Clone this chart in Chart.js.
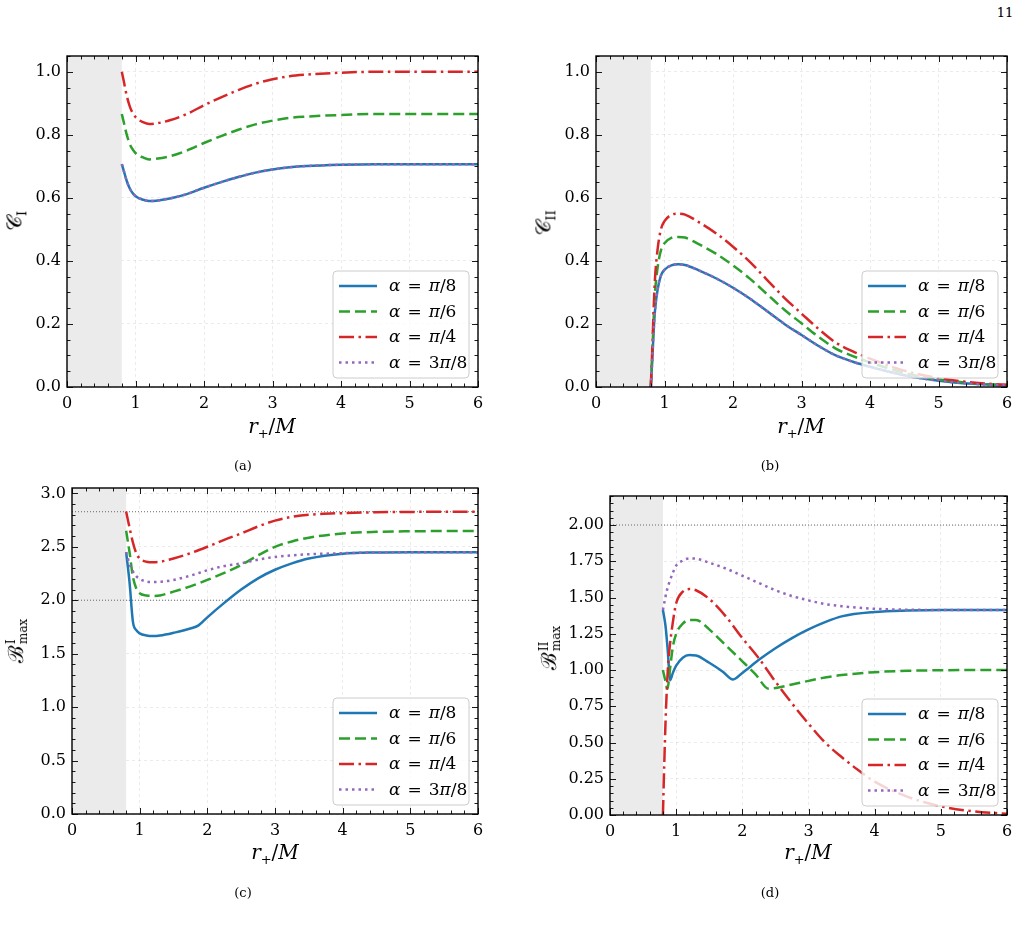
<!DOCTYPE html>
<html>
<head>
<meta charset="utf-8">
<script src="https://cdn.jsdelivr.net/npm/chart.js@4.4.1/dist/chart.umd.min.js"></script>
<style>
  body { margin: 0; background: #fff; }
  #page { position: relative; width: 1022px; height: 928px; overflow: hidden; font-family: "DejaVu Serif", serif; color: #000; }
  canvas { position: absolute; }
  .t { position: absolute; white-space: nowrap; transform: translate(-50%, -50%); }
  .yt { position: absolute; white-space: nowrap; font-size: 21px; transform: translate(-50%, -50%) rotate(-90deg); }
  .xt { font-size: 20px; }
  .cap { font-size: 13px; }
  .ss { display: inline-flex; flex-direction: column; font-size: 12px; line-height: 1.0; vertical-align: 8px; margin-left: 1px; }
  sub { font-size: 13px; }
</style>
</head>
<body>
<div id="page">
  <canvas id="grafico-a"></canvas>
  <canvas id="grafico-b"></canvas>
  <canvas id="grafico-c"></canvas>
  <canvas id="grafico-d"></canvas>

  <div class="t cap" style="left:1005px;top:12px">11</div>

  <div class="yt" style="left:16px;top:221px">𝒞<sub>I</sub></div>
  <div class="yt" style="left:545px;top:223px">𝒞<sub>II</sub></div>
  <div class="yt" style="left:15px;top:641px">ℬ<span class="ss"><span>I</span><span>max</span></span></div>
  <div class="yt" style="left:548px;top:648px">ℬ<span class="ss"><span>II</span><span>max</span></span></div>

  <div class="t xt" style="left:272px;top:427px"><i>r</i><sub>+</sub>/<i>M</i></div>
  <div class="t xt" style="left:801px;top:427px"><i>r</i><sub>+</sub>/<i>M</i></div>
  <div class="t xt" style="left:275px;top:853px"><i>r</i><sub>+</sub>/<i>M</i></div>
  <div class="t xt" style="left:808px;top:853px"><i>r</i><sub>+</sub>/<i>M</i></div>

  <div class="t cap" style="left:243px;top:465px">(a)</div>
  <div class="t cap" style="left:770px;top:465px">(b)</div>
  <div class="t cap" style="left:243px;top:892px">(c)</div>
  <div class="t cap" style="left:770px;top:892px">(d)</div>
</div>

<script>
// rótulos da legenda (mesmos nos 4 painéis)
const ROTULOS = ['α = π/8', 'α = π/6', 'α = π/4', 'α = 3π/8'];

// (a) C_I
const xA = [0.8, 0.83, 0.87, 0.92, 0.97, 1.03, 1.1, 1.2, 1.3, 1.5, 1.75, 2, 2.25, 2.5, 2.75, 3, 3.25, 3.5, 4, 4.5, 5, 5.5, 6];
const cI_pi8  = [0.707, 0.685, 0.655, 0.628, 0.612, 0.601, 0.595, 0.590, 0.591, 0.598, 0.612, 0.632, 0.650, 0.666, 0.680, 0.690, 0.697, 0.701, 0.705, 0.707, 0.707, 0.707, 0.707];
const cI_pi6  = [0.866, 0.839, 0.802, 0.769, 0.750, 0.736, 0.729, 0.722, 0.724, 0.732, 0.750, 0.774, 0.796, 0.816, 0.833, 0.845, 0.854, 0.858, 0.863, 0.866, 0.866, 0.866, 0.866];
const cI_pi4  = [1.000, 0.969, 0.926, 0.888, 0.865, 0.850, 0.841, 0.834, 0.836, 0.846, 0.866, 0.894, 0.919, 0.942, 0.962, 0.976, 0.986, 0.991, 0.997, 1.000, 1.000, 1.000, 1.000];
const cI_3pi8 = [0.707, 0.685, 0.655, 0.628, 0.612, 0.601, 0.595, 0.590, 0.591, 0.598, 0.612, 0.632, 0.650, 0.666, 0.680, 0.690, 0.697, 0.701, 0.705, 0.707, 0.707, 0.707, 0.707];

// (b) C_II
const xB = [0.8, 0.82, 0.84, 0.86, 0.9, 0.95, 1.0, 1.1, 1.2, 1.3, 1.5, 1.75, 2, 2.25, 2.5, 2.75, 3, 3.25, 3.5, 3.75, 4, 4.5, 5, 5.5, 6];
const cII_pi8  = [0, 0.080, 0.170, 0.240, 0.310, 0.355, 0.372, 0.386, 0.389, 0.387, 0.370, 0.345, 0.315, 0.280, 0.240, 0.200, 0.165, 0.130, 0.100, 0.080, 0.064, 0.037, 0.020, 0.010, 0.005];
const cII_pi6  = [0, 0.098, 0.208, 0.294, 0.380, 0.435, 0.456, 0.473, 0.476, 0.474, 0.453, 0.423, 0.386, 0.343, 0.294, 0.245, 0.202, 0.159, 0.122, 0.098, 0.078, 0.045, 0.024, 0.012, 0.006];
const cII_pi4  = [0, 0.113, 0.240, 0.339, 0.438, 0.502, 0.526, 0.546, 0.550, 0.547, 0.523, 0.488, 0.445, 0.396, 0.339, 0.283, 0.233, 0.184, 0.141, 0.113, 0.090, 0.052, 0.028, 0.014, 0.007];
const cII_3pi8 = [0, 0.080, 0.170, 0.240, 0.310, 0.355, 0.372, 0.386, 0.389, 0.387, 0.370, 0.345, 0.315, 0.280, 0.240, 0.200, 0.165, 0.130, 0.100, 0.080, 0.064, 0.037, 0.020, 0.010, 0.005];

// (c) B^I_max
const xC_pi8 = [0.8, 0.85, 0.9, 0.95, 1.0, 1.1, 1.2, 1.3, 1.5, 1.75, 1.87, 2, 2.25, 2.5, 2.75, 3, 3.25, 3.5, 4, 4.5, 5, 5.5, 6];
const bI_pi8  = [2.45, 2.17, 1.80, 1.72, 1.69, 1.67, 1.665, 1.67, 1.695, 1.735, 1.765, 1.84, 1.975, 2.10, 2.205, 2.285, 2.345, 2.39, 2.435, 2.447, 2.45, 2.45, 2.45];
const xC = [0.8, 0.85, 0.9, 0.95, 1.0, 1.1, 1.2, 1.3, 1.5, 1.75, 2, 2.25, 2.5, 2.75, 3, 3.25, 3.5, 4, 4.5, 5, 5.5, 6];
const bI_pi6  = [2.65, 2.45, 2.22, 2.11, 2.065, 2.045, 2.04, 2.045, 2.08, 2.13, 2.19, 2.255, 2.33, 2.42, 2.50, 2.55, 2.585, 2.625, 2.64, 2.645, 2.647, 2.647];
const bI_pi4  = [2.83, 2.68, 2.54, 2.44, 2.39, 2.36, 2.355, 2.36, 2.39, 2.44, 2.50, 2.565, 2.625, 2.69, 2.745, 2.78, 2.80, 2.815, 2.823, 2.826, 2.828, 2.828];
const bI_3pi8 = [2.45, 2.34, 2.27, 2.225, 2.20, 2.175, 2.17, 2.172, 2.19, 2.23, 2.28, 2.32, 2.345, 2.38, 2.405, 2.42, 2.43, 2.44, 2.447, 2.45, 2.45, 2.45];
const refC = [2.0, 2.828];

// (d) B^II_max
const xD_pi8 = [0.8, 0.84, 0.87, 0.91, 0.95, 1.0, 1.1, 1.2, 1.3, 1.5, 1.7, 1.86, 2, 2.25, 2.5, 2.75, 3, 3.25, 3.5, 4, 4.5, 5, 5.5, 6];
const bII_pi8 = [1.414, 1.30, 1.15, 0.93, 0.98, 1.03, 1.085, 1.103, 1.10, 1.05, 0.99, 0.935, 0.98, 1.07, 1.15, 1.22, 1.28, 1.33, 1.37, 1.40, 1.41, 1.414, 1.414, 1.414];
const xD_pi6 = [0.8, 0.84, 0.87, 0.9, 0.95, 1.0, 1.1, 1.2, 1.3, 1.5, 1.75, 2, 2.2, 2.4, 2.6, 2.75, 3, 3.25, 3.5, 4, 4.5, 5, 5.5, 6];
const bII_pi6 = [1.0, 0.92, 0.87, 0.98, 1.16, 1.25, 1.32, 1.345, 1.345, 1.28, 1.17, 1.06, 0.97, 0.87, 0.885, 0.90, 0.925, 0.948, 0.965, 0.985, 0.995, 0.998, 1.0, 1.0];
const xD_pi4 = [0.8, 0.82, 0.84, 0.86, 0.88, 0.9, 0.95, 1.0, 1.1, 1.2, 1.3, 1.5, 1.75, 2, 2.25, 2.5, 2.75, 3, 3.25, 3.5, 3.75, 4, 4.5, 5, 5.5, 6];
const bII_pi4 = [0, 0.35, 0.65, 0.88, 1.05, 1.15, 1.33, 1.46, 1.54, 1.558, 1.55, 1.49, 1.37, 1.22, 1.08, 0.92, 0.77, 0.63, 0.50, 0.40, 0.31, 0.23, 0.125, 0.06, 0.025, 0.008];
const xD_3pi8 = [0.8, 0.85, 0.9, 0.95, 1.0, 1.1, 1.2, 1.3, 1.5, 1.75, 2, 2.25, 2.5, 2.75, 3, 3.25, 3.5, 4, 4.5, 5, 5.5, 6];
const bII_3pi8 = [1.414, 1.53, 1.61, 1.67, 1.72, 1.755, 1.77, 1.768, 1.74, 1.70, 1.65, 1.60, 1.55, 1.51, 1.48, 1.455, 1.44, 1.422, 1.416, 1.414, 1.414, 1.414];
const refD = [2.0];

const ESTILOS = [
    { cor: '#1f77b4', dash: [] },
    { cor: '#2ca02c', dash: [11, 5] },
    { cor: '#d62728', dash: [15, 4.5, 2.5, 4.5] },
    { cor: '#9467bd', dash: [2.5, 4] }
];
const FONTE = '"DejaVu Serif", serif';

function pontos(xs, ys) {
    return xs.map(function(x, i) { return { x: x, y: ys[i] }; });
}

function serie(i, xs, ys) {
    return {
        label: ROTULOS[i],
        data: pontos(xs, ys),
        borderColor: ESTILOS[i].cor,
        borderDash: ESTILOS[i].dash,
        borderWidth: 2.5,
        borderCapStyle: 'butt',
        pointRadius: 0,
        cubicInterpolationMode: 'monotone',
        fill: false,
        order: 4 - i
    };
}

function referencia(v) {
    return {
        label: '',
        data: pontos([0, 6], [v, v]),
        borderColor: '#444',
        borderDash: [1, 2],
        borderWidth: 0.8,
        pointRadius: 0,
        fill: false,
        order: 9
    };
}

// texto da legenda: letras gregas em itálico
function desenharRotulo(ctx, txt, x, y) {
    var partes = txt.split(' ');
    ctx.textBaseline = 'middle';
    ctx.textAlign = 'left';
    partes.forEach(function(p) {
        for (var c of p) {
            var grego = (c === 'α' || c === 'π');
            ctx.font = (grego ? 'italic ' : '') + '17px ' + FONTE;
            ctx.fillText(c, x, y);
            x += ctx.measureText(c).width;
        }
        x += 7;
    });
}

const painelPlugin = {
    id: 'painel',
    beforeDatasetsDraw: function(chart) {
        var ctx = chart.ctx, a = chart.chartArea, sx = chart.scales.x;
        var x0 = sx.getPixelForValue(0), x1 = sx.getPixelForValue(0.8);
        ctx.save();
        ctx.fillStyle = '#ebebeb';
        ctx.fillRect(x0, a.top, x1 - x0, a.bottom - a.top);
        ctx.restore();
    },
    afterDatasetsDraw: function(chart, args, opts) {
        var ctx = chart.ctx, a = chart.chartArea, sx = chart.scales.x, sy = chart.scales.y;
        ctx.save();
        ctx.strokeStyle = '#000';
        ctx.setLineDash([]);

        // ticks para dentro nos 4 lados
        ctx.lineWidth = 0.9;
        ctx.beginPath();
        var n = Math.round(6 / 0.2);
        for (var i = 0; i <= n; i++) {
            var v = i * 0.2;
            var maior = Math.abs(v - Math.round(v)) < 1e-6;
            var L = maior ? 6 : 3.5;
            var px = Math.round(sx.getPixelForValue(v)) + 0.5;
            ctx.moveTo(px, a.bottom); ctx.lineTo(px, a.bottom - L);
            ctx.moveTo(px, a.top); ctx.lineTo(px, a.top + L);
        }
        var m = Math.floor(opts.ymax / opts.menor + 1e-6);
        for (var j = 0; j <= m; j++) {
            var vy = j * opts.menor;
            var q = vy / opts.maior;
            var maiorY = Math.abs(q - Math.round(q)) < 1e-6;
            var Ly = maiorY ? 6 : 3.5;
            var py = Math.round(sy.getPixelForValue(vy)) + 0.5;
            ctx.moveTo(a.left, py); ctx.lineTo(a.left + Ly, py);
            ctx.moveTo(a.right, py); ctx.lineTo(a.right - Ly, py);
        }
        ctx.stroke();

        ctx.lineWidth = 1.4;
        ctx.strokeRect(a.left, a.top, a.right - a.left, a.bottom - a.top);

        // legenda no canto inferior direito
        var w = 136, h = 107;
        var bx = a.right - 9 - w, by = a.bottom - 9 - h;
        ctx.beginPath();
        ctx.roundRect(bx, by, w, h, 4);
        ctx.fillStyle = 'rgba(255,255,255,0.8)';
        ctx.fill();
        ctx.strokeStyle = '#cccccc';
        ctx.lineWidth = 1;
        ctx.stroke();

        var k = 0;
        chart.data.datasets.forEach(function(ds) {
            if (!ds.label) return;
            var cy = by + 15 + k * 25.5;
            ctx.strokeStyle = ds.borderColor;
            ctx.lineWidth = ds.borderWidth;
            ctx.lineCap = 'butt';
            ctx.setLineDash(ds.borderDash || []);
            ctx.beginPath();
            ctx.moveTo(bx + 6, cy);
            ctx.lineTo(bx + 44, cy);
            ctx.stroke();
            ctx.setLineDash([]);
            ctx.fillStyle = '#000';
            desenharRotulo(ctx, ds.label, bx + 56, cy + 1);
            k++;
        });
        ctx.restore();
    }
};

function criarPainel(id, caixa, area, datasets, ymax, passo, menor, casas) {
    var cv = document.getElementById(id);
    cv.width = caixa.w; cv.height = caixa.h;
    cv.style.left = caixa.left + 'px';
    cv.style.top = caixa.top + 'px';
    var yW = area.l - caixa.left;
    var xH = caixa.top + caixa.h - area.b;

    new Chart(cv, {
        type: 'line',
        data: { datasets: datasets },
        plugins: [painelPlugin],
        options: {
            responsive: false,
            animation: false,
            devicePixelRatio: 1,
            layout: { padding: { top: area.t - caixa.top, right: caixa.left + caixa.w - area.r, left: 0, bottom: 0 } },
            plugins: {
                legend: { display: false },
                tooltip: { enabled: false },
                painel: { ymax: ymax, maior: passo, menor: menor }
            },
            scales: {
                x: {
                    type: 'linear', min: 0, max: 6,
                    afterFit: function(s) { s.height = xH; },
                    ticks: { stepSize: 1, includeBounds: false, padding: 7, maxRotation: 0, color: '#000', font: { family: FONTE, size: 16 } },
                    grid: { color: 'rgba(0,0,0,0.1)', lineWidth: 0.8, drawTicks: false },
                    border: { display: false, dash: [3, 3] }
                },
                y: {
                    type: 'linear', min: 0, max: ymax,
                    afterFit: function(s) { s.width = yW; },
                    ticks: {
                        stepSize: passo, includeBounds: false, padding: 6, color: '#000',
                        font: { family: FONTE, size: 16 },
                        callback: function(v) { return Number(v).toFixed(casas); }
                    },
                    grid: { color: 'rgba(0,0,0,0.1)', lineWidth: 0.8, drawTicks: false },
                    border: { display: false, dash: [3, 3] }
                }
            }
        }
    });
}

criarPainel('grafico-a', { left: 20, top: 32, w: 490, h: 394 }, { l: 67, t: 56, r: 478, b: 387 }, [
    serie(0, xA, cI_pi8), serie(1, xA, cI_pi6), serie(2, xA, cI_pi4), serie(3, xA, cI_3pi8)
], 1.05, 0.2, 0.05, 1);

criarPainel('grafico-b', { left: 550, top: 32, w: 472, h: 394 }, { l: 596, t: 56, r: 1007, b: 387 }, [
    serie(0, xB, cII_pi8), serie(1, xB, cII_pi6), serie(2, xB, cII_pi4), serie(3, xB, cII_3pi8)
], 1.05, 0.2, 0.05, 1);

criarPainel('grafico-c', { left: 20, top: 464, w: 490, h: 394 }, { l: 72, t: 488, r: 478, b: 814 }, [
    serie(0, xC_pi8, bI_pi8), serie(1, xC, bI_pi6), serie(2, xC, bI_pi4), serie(3, xC, bI_3pi8)
].concat(refC.map(referencia)), 3.05, 0.5, 0.1, 1);

criarPainel('grafico-d', { left: 550, top: 472, w: 472, h: 394 }, { l: 610, t: 496, r: 1007, b: 815 }, [
    serie(0, xD_pi8, bII_pi8), serie(1, xD_pi6, bII_pi6), serie(2, xD_pi4, bII_pi4), serie(3, xD_3pi8, bII_3pi8)
].concat(refD.map(referencia)), 2.2, 0.25, 0.05, 2);
</script>
</body>
</html>
